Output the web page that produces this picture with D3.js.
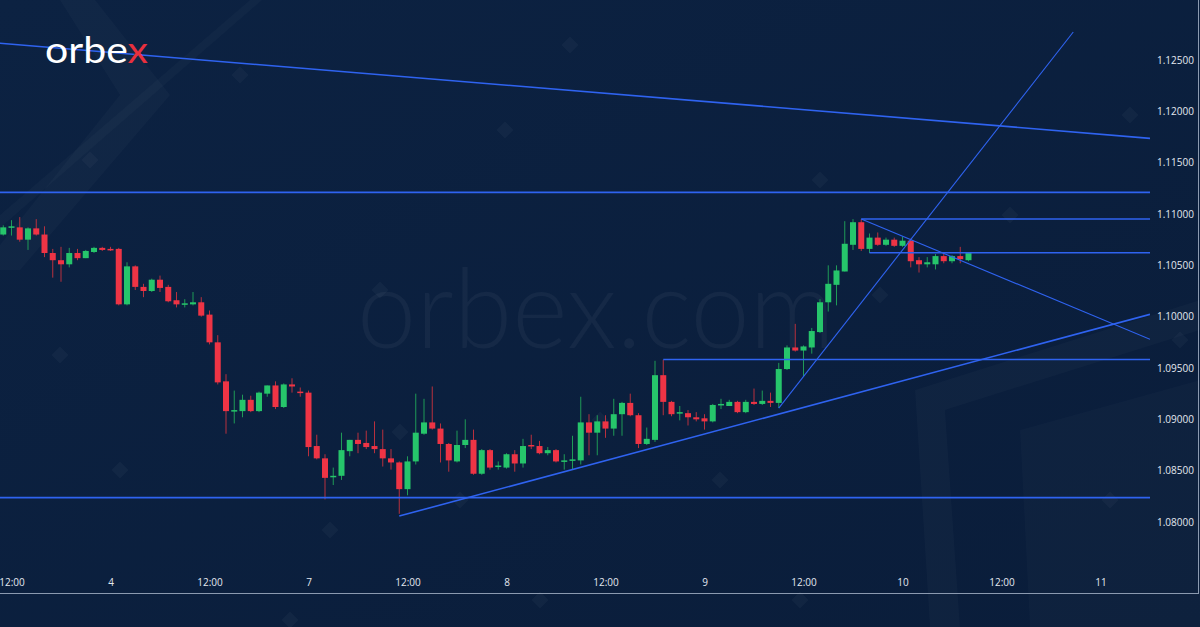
<!DOCTYPE html>
<html><head><meta charset="utf-8">
<script src="https://cdn.jsdelivr.net/npm/d3@7"></script>
<style>html,body{margin:0;padding:0;background:#0a1e3b;}svg{display:block;}</style>
</head><body>
<script>
// ---- DATA (hourly candles, hour index relative to "4" 00:00, trading hours only) ----
const firstHour = -13;
const opens  = [1.1080,1.1087,1.1087,1.1075,1.1086,1.1080,1.1062,1.1055,1.1051,1.1062,1.1057,1.1063,1.1067,
1.1066,1.1066,1.1012,1.1049,1.1029,1.1025,1.1036,1.1029,1.1016,1.1012,1.1012,1.1014,1.1002,1.0975,1.0937,1.0908,1.0908,1.0919,1.0908,1.0925,1.0933,1.0912,1.0934,1.0927,
1.0926,1.0874,1.0862,1.0844,1.0845,1.0869,1.0880,1.0877,1.0874,1.0871,1.0862,1.0858,1.0832,1.0859,1.0886,1.0897,1.0891,1.0876,1.0859,1.0875,1.0880,1.0847,1.0870,1.0854,
1.0853,1.0866,1.0857,1.0875,1.0874,1.0867,1.0870,1.0859,1.0860,1.0860,1.0897,1.0887,1.0898,1.0891,1.0905,1.0916,1.0904,1.0876,1.0880,1.0943,1.0917,1.0906,1.0906,1.0902,1.0901,
1.0898,1.0914,1.0913,1.0917,1.0907,1.0917,1.0915,1.0918,1.0916,1.0949,1.0970,1.0967,1.0970,1.0985,1.1014,1.1031,1.1044,1.1070,1.1092,1.1066,1.1077,1.1070,1.1075,1.1069,
1.1074,1.1055,1.1051,1.1051,1.1059,1.1054,1.1059,1.1055];
const highs  = [1.1089,1.1094,1.1097,1.1087,1.1095,1.1088,1.1066,1.1068,1.1067,1.1066,1.1065,1.1068,1.1068,
1.1068,1.1067,1.1053,1.1050,1.1032,1.1037,1.1040,1.1031,1.1024,1.1017,1.1024,1.1019,1.1006,1.0982,1.0944,1.0928,1.0924,1.0923,1.0927,1.0933,1.0937,1.0935,1.0940,1.0931,
1.0928,1.0885,1.0866,1.0853,1.0887,1.0880,1.0887,1.0889,1.0898,1.0890,1.0871,1.0859,1.0864,1.0925,1.0920,1.0932,1.0896,1.0877,1.0889,1.0900,1.0890,1.0871,1.0871,1.0859,
1.0867,1.0870,1.0881,1.0885,1.0879,1.0873,1.0871,1.0866,1.0884,1.0922,1.0905,1.0904,1.0904,1.0920,1.0917,1.0925,1.0906,1.0892,1.0957,1.0958,1.0918,1.0913,1.0909,1.0907,1.0905,
1.0915,1.0920,1.0919,1.0918,1.0919,1.0930,1.0928,1.0926,1.0955,1.0972,1.0993,1.0972,1.0989,1.1017,1.1050,1.1050,1.1093,1.1095,1.1095,1.1081,1.1082,1.1077,1.1077,1.1078,
1.1076,1.1058,1.1058,1.1061,1.1062,1.1060,1.1068,1.1063];
const lows   = [1.1079,1.1079,1.1073,1.1065,1.1079,1.1058,1.1038,1.1034,1.1048,1.1055,1.1057,1.1062,1.1064,
1.1064,1.1011,1.1011,1.1026,1.1019,1.1024,1.1024,1.1014,1.1009,1.1009,1.1011,1.1000,1.0973,1.0934,1.0886,1.0896,1.0902,1.0907,1.0907,1.0922,1.0910,1.0911,1.0926,1.0922,
1.0864,1.0861,1.0822,1.0836,1.0841,1.0864,1.0867,1.0871,1.0867,1.0854,1.0851,1.0808,1.0826,1.0856,1.0885,1.0890,1.0858,1.0849,1.0858,1.0872,1.0846,1.0846,1.0851,1.0851,
1.0852,1.0849,1.0853,1.0871,1.0866,1.0865,1.0858,1.0851,1.0851,1.0856,1.0865,1.0865,1.0882,1.0884,1.0884,1.0903,1.0872,1.0875,1.0878,1.0904,1.0903,1.0899,1.0894,1.0898,1.0890,
1.0897,1.0910,1.0913,1.0906,1.0906,1.0914,1.0914,1.0912,1.0911,1.0948,1.0966,1.0942,1.0964,1.0984,1.1005,1.1011,1.1044,1.1065,1.1064,1.1062,1.1069,1.1069,1.1068,1.1068,
1.1048,1.1043,1.1048,1.1046,1.1052,1.1052,1.1052,1.1054];
const closes = [1.1087,1.1088,1.1075,1.1086,1.1080,1.1062,1.1055,1.1051,1.1062,1.1057,1.1064,1.1067,1.1065,
1.1065,1.1012,1.1049,1.1029,1.1025,1.1036,1.1028,1.1015,1.1012,1.1013,1.1014,1.1001,1.0975,1.0936,1.0908,1.0909,1.0919,1.0908,1.0926,1.0933,1.0912,1.0934,1.0932,1.0926,
1.0873,1.0862,1.0843,1.0845,1.0870,1.0880,1.0876,1.0873,1.0871,1.0862,1.0858,1.0832,1.0859,1.0887,1.0897,1.0891,1.0876,1.0860,1.0875,1.0880,1.0847,1.0870,1.0853,1.0855,
1.0866,1.0857,1.0874,1.0874,1.0867,1.0870,1.0859,1.0860,1.0861,1.0897,1.0887,1.0898,1.0891,1.0905,1.0916,1.0904,1.0876,1.0881,1.0943,1.0917,1.0905,1.0907,1.0902,1.0900,1.0898,
1.0914,1.0915,1.0917,1.0907,1.0917,1.0915,1.0918,1.0916,1.0949,1.0970,1.0967,1.0971,1.0986,1.1014,1.1032,1.1045,1.1071,1.1092,1.1066,1.1077,1.1070,1.1075,1.1069,1.1074,
1.1054,1.1051,1.1053,1.1059,1.1054,1.1059,1.1056,1.1062];

const priceTicks = [1.080,1.085,1.090,1.095,1.100,1.105,1.110,1.115,1.120,1.125];
const timeTickHours  = [-12,0,12,24,36,48,60,72,84,96,108,120];
const timeTickLabels = ["12:00","4","12:00","7","12:00","8","12:00","9","12:00","10","12:00","11"];

// drawn analysis lines: [hourStart, priceStart, hourEnd, priceEnd]
const trendLines = [
  [-13.4,1.12663,126.0,1.11737],
  [35,1.08058,126.0,1.10023],
  [91,1.10951,126.0,1.09780],
  [81,1.0911,116.7,1.12773]
];
const hLines = [ // [hourStart, price]
  [-13.4,1.11211],[91,1.10951],[92,1.10623],[67,1.09583],[-13.4,1.08237]
];

// ---- CHART ----
const W=1200,H=627, plotRight=1150, axisY=593;
const svg=d3.select("body").append("svg").attr("width",W).attr("height",H);
const defs=svg.append("defs");
const g0=defs.append("linearGradient").attr("id","bg").attr("x1",0).attr("y1",0).attr("x2",1).attr("y2",1);
g0.append("stop").attr("offset","0").attr("stop-color","#0c2242");
g0.append("stop").attr("offset","1").attr("stop-color","#0a1d3a");
svg.append("rect").attr("width",W).attr("height",H).attr("fill","url(#bg)");

// faint background decorations
const deco=svg.append("g").attr("fill","#ffffff").attr("fill-opacity",0.025);
deco.append("path").attr("d","M0,0 L95,0 L170,95 L20,270 L0,270 L0,245 L120,95 L60,0Z");
deco.append("path").attr("d","M0,215 L250,0 L262,0 L0,228Z");
deco.append("path").attr("d","M930,627 L915,390 L1200,300 L1200,330 L945,410 L960,627Z");
deco.append("path").attr("d","M1030,627 L1020,430 L1200,380 L1200,627Z").attr("fill-opacity",0.02);
const dia=[[570,45],[240,75],[90,160],[505,130],[380,290],[60,355],[400,432],[460,500],[120,470],[330,530],[290,620],[880,295],[820,180],[1130,115],[1010,215],[1180,340],[1110,500],[600,420],[720,480],[800,600],[540,600]];
deco.selectAll("rect.d").data(dia).enter().append("rect").attr("x",d=>d[0]-6).attr("y",d=>d[1]-6)
  .attr("width",12).attr("height",12).attr("transform",d=>`rotate(45 ${d[0]} ${d[1]})`).attr("fill-opacity",0.03);

// watermark
svg.append("text").attr("x",357).attr("y",348).attr("font-family","Lato, 'Open Sans', sans-serif")
  .attr("font-weight",300).attr("font-size",110).attr("textLength",478).attr("lengthAdjust","spacingAndGlyphs")
  .attr("fill","#ffffff").attr("fill-opacity",0.045).text("orbex.com");

// scales
const x=d3.scaleLinear().domain([0,120]).range([110.5,1100.5]);
const y=d3.scaleLinear().domain([1.08,1.125]).range([522,60]);

svg.append("clipPath").attr("id","plot").append("rect").attr("x",0).attr("y",0).attr("width",plotRight).attr("height",axisY);
const plot=svg.append("g").attr("clip-path","url(#plot)");

// candles
const candles=opens.map((o,i)=>({h:firstHour+i,o,hi:highs[i],lo:lows[i],c:closes[i]}));
const up="#26c56b", dn="#ee3445";
const cg=plot.append("g");
cg.selectAll("line.w").data(candles).enter().append("line")
  .attr("x1",d=>x(d.h)).attr("x2",d=>x(d.h)).attr("y1",d=>y(d.hi)).attr("y2",d=>y(d.lo))
  .attr("stroke",d=>d.c>=d.o?"#1f9a57":"#b8303e").attr("stroke-width",1);
cg.selectAll("rect.b").data(candles).enter().append("rect")
  .attr("x",d=>x(d.h)-3).attr("width",6)
  .attr("y",d=>y(Math.max(d.o,d.c)))
  .attr("height",d=>Math.max(1.5,Math.abs(y(d.o)-y(d.c))))
  .attr("fill",d=>d.c>=d.o?up:dn);

// analysis lines
const lc="#2f63f0";
const lg=plot.append("g").attr("stroke",lc).attr("fill","none");
lg.selectAll("line.h").data(hLines).enter().append("line")
  .attr("x1",d=>x(d[0])).attr("x2",plotRight).attr("y1",d=>y(d[1])).attr("y2",d=>y(d[1])).attr("stroke-width",1.6);
lg.selectAll("line.t").data(trendLines).enter().append("line")
  .attr("x1",d=>x(d[0])).attr("y1",d=>y(d[1])).attr("x2",d=>x(d[2])).attr("y2",d=>y(d[3]))
  .attr("stroke-width",(d,i)=>i<2?1.6:1.1);

// y axis
const ya=svg.append("g").attr("transform",`translate(1150,0)`)
  .call(d3.axisRight(y).tickValues(priceTicks).tickFormat(d3.format(".5f")).tickSize(0).tickPadding(7));
ya.select(".domain").remove();
ya.selectAll("text").attr("fill","#e3e8ef").attr("font-family","'Open Sans', Roboto, sans-serif").attr("font-size",10);

// x axis
const xa=svg.append("g").attr("transform",`translate(0,${axisY})`)
  .call(d3.axisTop(x).tickValues(timeTickHours).tickFormat((d,i)=>timeTickLabels[i]).tickSize(0).tickPadding(7));
xa.select(".domain").remove();
xa.selectAll("text").attr("fill","#e3e8ef").attr("font-family","'Open Sans', Roboto, sans-serif").attr("font-size",10);

// frame
svg.append("line").attr("x1",0).attr("x2",1198.5).attr("y1",axisY+0.5).attr("y2",axisY+0.5).attr("stroke","#8b9ab0").attr("stroke-width",1);
svg.append("line").attr("x1",1198.5).attr("x2",1198.5).attr("y1",0).attr("y2",axisY+1).attr("stroke","#8b9ab0").attr("stroke-width",1);

// logo
const logo=svg.append("text").attr("x",45).attr("y",63).attr("font-family","Lato, 'Open Sans', sans-serif")
  .attr("font-weight",400).attr("font-size",37).attr("textLength",103).attr("lengthAdjust","spacingAndGlyphs").attr("fill","#ffffff");
logo.append("tspan").text("orbe");
logo.append("tspan").attr("fill","#e8303e").text("x");
</script>
</body></html>
